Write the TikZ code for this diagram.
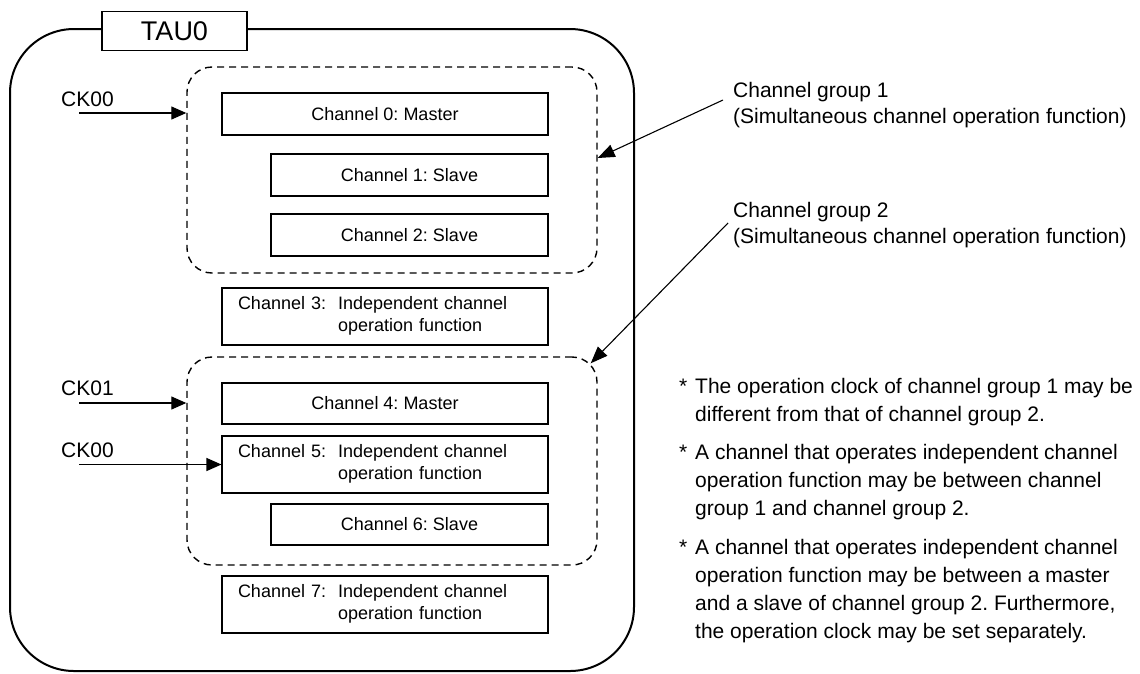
\documentclass[tikz,border=0pt]{standalone}
\usepackage{fontspec}
\setmainfont{Liberation Sans}
\usetikzlibrary{arrows.meta}
\frenchspacing
\begin{document}
\frenchspacing
\begin{tikzpicture}[x=1pt,y=-1pt,
  chbox/.style={draw, line width=1.1pt, inner sep=0pt, minimum height=42pt, font=\fontsize{18}{22}\selectfont},
  chwide/.style={chbox, minimum height=57pt, text width=294pt, inner xsep=16pt, align=left},
  grp/.style={draw, dash pattern=on 7pt off 5pt, line width=1.4pt, rounded corners=25pt, inner sep=0pt, minimum width=410pt},
  arr/.style={line width=1.2pt, -{Triangle[length=15pt,width=13pt]}},
  garr/.style={line width=1.1pt, -{Triangle[length=17pt,width=13pt]}},
  lbl/.style={font=\fontsize{21}{26}\selectfont, inner sep=0pt},
  note/.style={font=\fontsize{21}{28}\selectfont, inner sep=0pt, align=left, anchor=north west},
]
\useasboundingbox (0,0) rectangle (1140,673);
% outer frame
\draw[line width=2pt, rounded corners=64pt] (10,29) rectangle (634,671);
\node[draw, line width=1.3pt, fill=white, minimum width=145pt, minimum height=39pt, inner sep=0pt, font=\fontsize{27}{32}\selectfont] (tau) at (174.5,31.2) {TAU0};

% channel groups
\node[grp, minimum height=206pt] (g1) at (392,170) {};
\node[grp, minimum height=208pt] (g2) at (392,461) {};

% channels
\node[chbox, minimum width=326pt] (ch0) at (385,114) {Channel 0: Master};
\node[chbox, minimum width=277pt] (ch1) at (409.5,175) {Channel 1: Slave};
\node[chbox, minimum width=277pt] (ch2) at (409.5,235) {Channel 2: Slave};
\node[chwide] (ch3) at (385,316.5) {\begin{tabular}{@{}l@{\hspace{12pt}}l@{}}Channel 3: & Independent channel\\ & operation function\end{tabular}};
\node[chbox, minimum width=326pt, minimum height=41pt] (ch4) at (385,403.5) {Channel 4: Master};
\node[chwide] (ch5) at (385,464.5) {\begin{tabular}{@{}l@{\hspace{12pt}}l@{}}Channel 5: & Independent channel\\ & operation function\end{tabular}};
\node[chbox, minimum width=277pt, minimum height=41pt] (ch6) at (409.5,524.5) {Channel 6: Slave};
\node[chwide] (ch7) at (385,604.5) {\begin{tabular}{@{}l@{\hspace{12pt}}l@{}}Channel 7: & Independent channel\\ & operation function\end{tabular}};

% clock inputs
\node[lbl, anchor=west] (ck0) at (61,99) {CK00};
\coordinate (ck0s) at (79,113);
\draw[arr] (ck0s) -- (ck0s -| g1.west);
\node[lbl, anchor=west] (ck1) at (61,388) {CK01};
\coordinate (ck1s) at (79,403);
\draw[arr] (ck1s) -- (ck1s -| g2.west);
\node[lbl, anchor=west] (ck2) at (61,450) {CK00};
\coordinate (ck2s) at (79,464.5);
\draw[arr] (ck2s) -- (ck2s -| ch5.west);

% group labels
\node[lbl, align=left, anchor=north west] (cg1) at (733,81.7) {Channel group 1\\(Simultaneous channel operation function)};
\coordinate (cg1s) at (723,100);
\draw[garr] (cg1s) -- ([yshift=12pt]g1.east);
\node[lbl, align=left, anchor=north west] (cg2) at (733,201.7) {Channel group 2\\(Simultaneous channel operation function)};
\coordinate (cg2s) at (728,223);
\draw[garr] (cg2s) -- ([xshift=-7pt,yshift=-7pt]g2.north east);

% notes
\node[note] (n1) at (695,377.7) {\llap{*\hspace{8pt}}The operation clock of channel group 1 may be\\different from that of channel group 2.};
\node[note] (n2) at (695,444) {\llap{*\hspace{8pt}}A channel that operates independent channel\\operation function may be between channel\\group 1 and channel group 2.};
\node[note] (n3) at (695,539) {\llap{*\hspace{8pt}}A channel that operates independent channel\\operation function may be between a master\\and a slave of channel group 2. Furthermore,\\the operation clock may be set separately.};
\end{tikzpicture}
\end{document}
